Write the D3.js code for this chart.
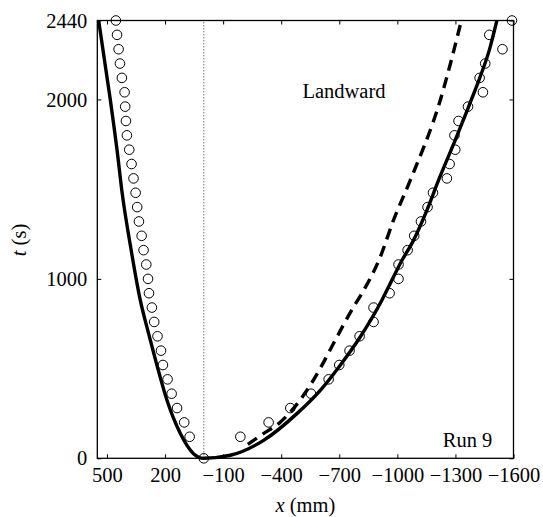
<!DOCTYPE html>
<html>
<head>
<meta charset="utf-8">
<script src="https://cdn.jsdelivr.net/npm/d3@7"></script>
<style>
  html, body { margin: 0; padding: 0; background: #fff; }
  svg { display: block; }
</style>
</head>
<body>
<svg id="chart" width="543" height="517"></svg>
<script>
// ---- data ----
const xTicks = [500, 200, -100, -400, -700, -1000, -1300, -1600];
const yTicks = [0, 1000, 2000, 2440];

const circleTimes = [120, 200, 280, 360, 440, 520, 600, 680, 760, 840, 920, 1000, 1080, 1160, 1240,
                     1320, 1400, 1480, 1560, 1640, 1720, 1800, 1880, 1960, 2040, 2120, 2200, 2280, 2360, 2440];
const seawardX = [73, 101, 138, 166, 187, 211, 221, 239, 256, 268, 283, 288, 297, 311, 321,
                  335, 344, 352, 363, 373, 385, 397, 402, 406, 409, 423, 433, 440, 448, 454];
const landwardX = [-189, -335, -447, -554, -645, -700, -753, -805, -877, -877, -960, -1006, -1006, -1053, -1087,
                   -1122, -1156, -1184, -1256, -1270, -1299, -1295, -1316, -1365, -1442, -1425, -1454, -1543, -1475, -1592];
const originX = [0];
const originT = [0];

const solidX = [543, 483, 448, 422, 375, 328, 285, 242, 190, 121, 53, 0, -137, -309, -481, -602, -705, -808, -920,
                -972, -1015, -1084, -1153, -1213, -1299, -1368, -1428, -1475, -1514];
const solidT = [2440, 2000, 1718, 1482, 1160, 881, 695, 519, 323, 138, 26, 0, 17, 100, 249, 379, 519, 676, 881,
                993, 1086, 1216, 1383, 1550, 1773, 1959, 2127, 2275, 2440];

const dashedX = [-205, -303, -395, -533, -602, -670, -774, -817, -912, -980, -1067, -1222, -1325];
const dashedT = [61, 134, 201, 379, 502, 640, 844, 919, 1123, 1327, 1550, 1997, 2415];

const labels = { x: "x", xUnit: " (mm)", y: "t", yUnit: " (s)", top: "Landward", bottom: "Run 9" };

// ---- layout ----
const FONT = "'Liberation Serif', 'Times New Roman', Times, serif";
const L = 97.3, R = 513.5, T = 20.5, B = 458.3;
const svg = d3.select("#chart").style("font-family", FONT);
const x = d3.scaleLinear().domain([550, -1600]).range([L, R]);
const y = d3.scaleLinear().domain([0, 2440]).range([B, T]);
const FS = 20.5;
const fmt = d => d < 0 ? "\u2212" + Math.abs(d) : String(d);

// dotted reference at x = 0
svg.append("line")
  .attr("x1", x(0)).attr("x2", x(0)).attr("y1", y(0)).attr("y2", y(2440))
  .attr("stroke", "#333").attr("stroke-width", 1).attr("stroke-dasharray", "1,2");

// axes
const tickLen = 4;
const gB = svg.append("g").attr("transform", `translate(0,${B})`)
  .call(d3.axisBottom(x).tickValues(xTicks).tickSizeInner(-tickLen).tickSizeOuter(0).tickPadding(14).tickFormat(fmt));
const gT = svg.append("g").attr("transform", `translate(0,${T})`)
  .call(d3.axisTop(x).tickValues(xTicks).tickSizeInner(-tickLen).tickSizeOuter(0).tickFormat(""));
const gL = svg.append("g").attr("transform", `translate(${L},0)`)
  .call(d3.axisLeft(y).tickValues(yTicks).tickSizeInner(-tickLen).tickSizeOuter(0).tickPadding(10).tickFormat(fmt));
const gR = svg.append("g").attr("transform", `translate(${R},0)`)
  .call(d3.axisRight(y).tickValues(yTicks).tickSizeInner(-tickLen).tickSizeOuter(0).tickFormat(""));
[gB, gT, gL, gR].forEach(g => {
  g.attr("font-family", null).attr("font-size", null);
  g.select(".domain").remove();
  g.selectAll(".tick line").attr("stroke", "#000").attr("stroke-width", 1);
  g.selectAll("text").style("font-family", FONT).style("font-size", FS + "px").attr("fill", "#000");
});
gB.selectAll(".tick text").attr("dy", null).attr("y", 24);

// frame
svg.append("rect").attr("x", L).attr("y", T).attr("width", R - L).attr("height", B - T)
  .attr("fill", "none").attr("stroke", "#000").attr("stroke-width", 1.3);

// curves (sorted by x so the monotone curve is a function t(x))
const line = d3.line().x(d => x(d[0])).y(d => y(d[1])).curve(d3.curveMonotoneX);
const solidPts = solidX.map((v, i) => [v, solidT[i]]).sort((a, b) => a[0] - b[0]);
const dashedPts = dashedX.map((v, i) => [v, dashedT[i]]).sort((a, b) => a[0] - b[0]);
svg.append("path").datum(solidPts)
  .attr("d", line).attr("fill", "none").attr("stroke", "#000").attr("stroke-width", 3.4);
svg.append("path").datum(dashedPts)
  .attr("d", line).attr("fill", "none").attr("stroke", "#000").attr("stroke-width", 3.4)
  .attr("stroke-dasharray", "11,7");

// circles
const pts = seawardX.map((v, i) => [v, circleTimes[i]])
  .concat(landwardX.map((v, i) => [v, circleTimes[i]]))
  .concat(originX.map((v, i) => [v, originT[i]]));
svg.append("g").selectAll("circle").data(pts).join("circle")
  .attr("cx", d => x(d[0])).attr("cy", d => y(d[1])).attr("r", 4.8)
  .attr("fill", "none").attr("stroke", "#000").attr("stroke-width", 1);

// axis titles
const txt = sel => sel.style("font-family", FONT).style("font-size", FS + "px").attr("fill", "#000");
const xt = svg.append("text").attr("x", (L + R) / 2).attr("y", 512).attr("text-anchor", "middle").call(txt);
xt.append("tspan").attr("font-style", "italic").text(labels.x);
xt.append("tspan").text(labels.xUnit);
const yt = svg.append("text").attr("transform", `translate(26,240) rotate(-90)`).attr("text-anchor", "middle").call(txt);
yt.append("tspan").attr("font-style", "italic").text(labels.y);
yt.append("tspan").text(labels.yUnit);

// annotations
svg.append("text").attr("x", 344).attr("y", 98.3).attr("text-anchor", "middle").call(txt).text(labels.top);
svg.append("text").attr("x", 467.5).attr("y", 447.3).attr("text-anchor", "middle").call(txt).text(labels.bottom);
</script>
</body>
</html>
